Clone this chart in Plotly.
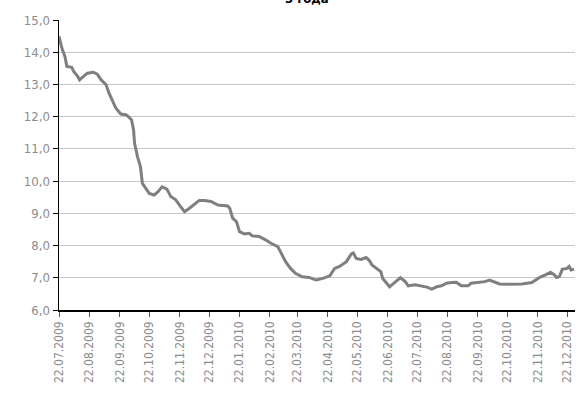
import plotly.graph_objects as go

dates = [
    "2009-07-22", "2009-07-25", "2009-07-28", "2009-07-30", "2009-08-04", "2009-08-06",
    "2009-08-10", "2009-08-12", "2009-08-16", "2009-08-20", "2009-08-26", "2009-08-30",
    "2009-09-03", "2009-09-08", "2009-09-11", "2009-09-15", "2009-09-18", "2009-09-23",
    "2009-09-28", "2009-09-30", "2009-10-04", "2009-10-06", "2009-10-07", "2009-10-10",
    "2009-10-13", "2009-10-15", "2009-10-18", "2009-10-22", "2009-10-27", "2009-10-31",
    "2009-11-04", "2009-11-09", "2009-11-13", "2009-11-18", "2009-11-23", "2009-11-27",
    "2009-12-02", "2009-12-07", "2009-12-12", "2009-12-17", "2009-12-24", "2009-12-31",
    "2010-01-10", "2010-01-12", "2010-01-15", "2010-01-19", "2010-01-22", "2010-01-27",
    "2010-02-01", "2010-02-04", "2010-02-11", "2010-02-18", "2010-02-23", "2010-03-02",
    "2010-03-05", "2010-03-10", "2010-03-15", "2010-03-20", "2010-03-27", "2010-04-03",
    "2010-04-10", "2010-04-17", "2010-04-24", "2010-04-29", "2010-05-04", "2010-05-11",
    "2010-05-16", "2010-05-18", "2010-05-21", "2010-05-26", "2010-05-31", "2010-06-03",
    "2010-06-06", "2010-06-11", "2010-06-15", "2010-06-17", "2010-06-21", "2010-06-24",
    "2010-06-29", "2010-07-05", "2010-07-10", "2010-07-13", "2010-07-20", "2010-07-27",
    "2010-08-01", "2010-08-06", "2010-08-11", "2010-08-16", "2010-08-21", "2010-08-26",
    "2010-08-31", "2010-09-05", "2010-09-12", "2010-09-15", "2010-09-22", "2010-09-29",
    "2010-10-04", "2010-10-09", "2010-10-14", "2010-10-23", "2010-10-30", "2010-11-06",
    "2010-11-11", "2010-11-16", "2010-11-20", "2010-11-25", "2010-11-30", "2010-12-05",
    "2010-12-09", "2010-12-11", "2010-12-14", "2010-12-17", "2010-12-22", "2010-12-24",
    "2010-12-26", "2010-12-29",
]
values = [
    14.49, 14.12, 13.87, 13.56, 13.53, 13.40,
    13.25, 13.14, 13.25, 13.35, 13.38, 13.32,
    13.14, 12.99, 12.73, 12.47, 12.26, 12.08,
    12.06, 12.02, 11.90, 11.59, 11.18, 10.76,
    10.45, 9.93, 9.78, 9.62, 9.57, 9.67,
    9.82, 9.75, 9.52, 9.42, 9.21, 9.05,
    9.16, 9.29, 9.40, 9.40, 9.37, 9.26,
    9.23, 9.16, 8.85, 8.74, 8.43, 8.36,
    8.38, 8.30, 8.28, 8.17, 8.07, 7.97,
    7.81, 7.50, 7.29, 7.14, 7.03, 7.01,
    6.93, 6.98, 7.06, 7.29, 7.35, 7.50,
    7.74, 7.77, 7.60, 7.57, 7.63, 7.55,
    7.40, 7.29, 7.19, 6.98, 6.83, 6.72,
    6.85, 7.00, 6.88, 6.75, 6.78, 6.74,
    6.71, 6.65, 6.72, 6.75, 6.83, 6.85,
    6.86, 6.75, 6.75, 6.83, 6.85, 6.88,
    6.93, 6.88, 6.81, 6.80, 6.80, 6.81,
    6.83, 6.85, 6.93, 7.03, 7.09, 7.17,
    7.09, 7.01, 7.03, 7.26, 7.29, 7.35,
    7.24, 7.27,
]
title_text = "3 года"

FONT = "Liberation Sans Narrow, DejaVu Sans Condensed, Arial Narrow, sans-serif"

fig = go.Figure()
fig.add_trace(go.Scatter(
    x=dates, y=values, mode="lines",
    line=dict(color="#7f7f7f", width=3),
    hoverinfo="skip", showlegend=False,
))

fig.update_layout(
    width=579, height=393,
    margin=dict(l=59, r=4, t=20, b=83),
    paper_bgcolor="white", plot_bgcolor="white",
    separators=", ",
    font=dict(family=FONT, size=12, color="#8c8c8c"),
    showlegend=False,
)
fig.update_yaxes(
    range=[6, 15], dtick=1, tick0=6, tickformat=".1f",
    showgrid=True, gridcolor="#c8c8c8", gridwidth=1,
    showline=True, linecolor="black", linewidth=1.5,
    ticks="outside", ticklen=5, tickcolor="black", tickwidth=1,
    tickfont=dict(family=FONT, size=13, color="#8c8c8c"),
    zeroline=False, automargin=False,
)
fig.update_xaxes(
    type="date", range=["2009-07-22", "2010-12-30"],
    tick0="2009-07-22", dtick="M1", tickformat="%d.%m.%Y", tickangle=-90,
    showgrid=False,
    showline=True, linecolor="black", linewidth=1.5,
    ticks="outside", ticklen=5, tickcolor="#555555", tickwidth=1,
    tickfont=dict(family=FONT, size=12, color="#8c8c8c"),
    zeroline=False, automargin=False,
)
fig.add_annotation(
    text="<b>" + title_text + "</b>", xref="paper", yref="paper",
    x=0.48, y=1.040, xanchor="center", yanchor="bottom", showarrow=False,
    font=dict(family=FONT, size=13, color="black"),
)

fig.write_html(
    "out.html",
    config={"displayModeBar": False, "staticPlot": True},
    post_script="document.body.style.margin='0';document.body.style.overflow='hidden';",
)
